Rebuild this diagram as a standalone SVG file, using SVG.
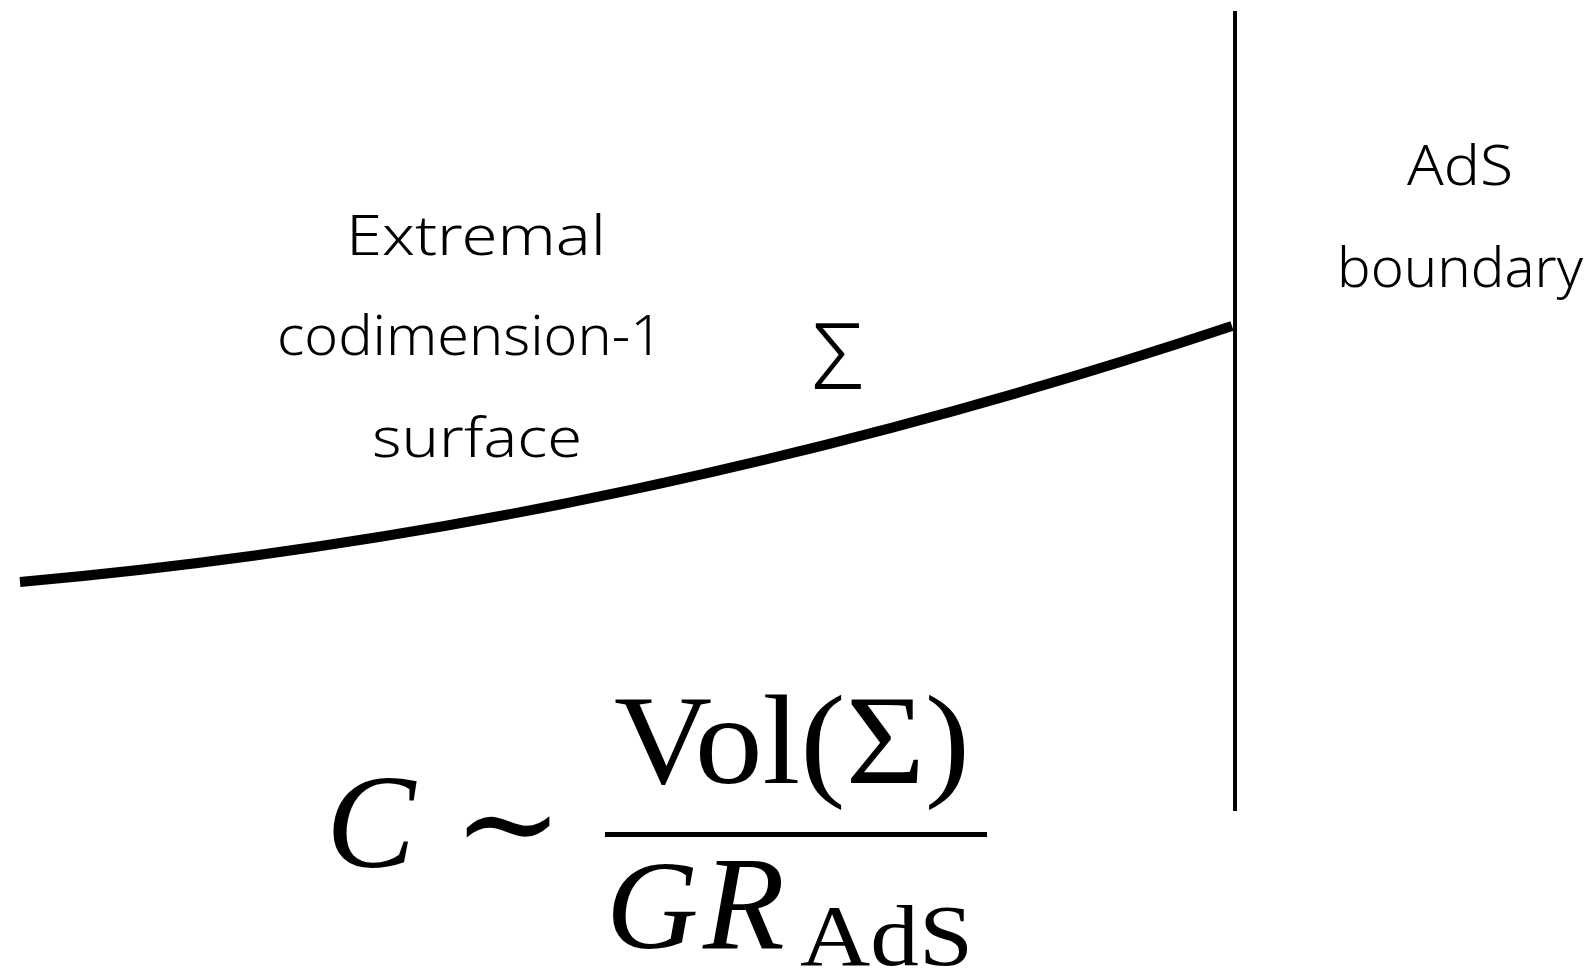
<svg xmlns="http://www.w3.org/2000/svg" width="1596" height="974" viewBox="0 0 1596 974">
<style>
.hand{font-family:"Noto Sans","DejaVu Sans",sans-serif;font-weight:300;font-size:56px;fill:#000;text-anchor:middle}
.math{font-family:"Liberation Serif","DejaVu Serif",serif;font-size:128px;fill:#000}
.it{font-style:italic}
</style>
<rect width="1596" height="974" fill="#fff"/>
<g id="connectors" fill="none" stroke="#000">
<path id="surface-curve" d="M20,582 Q626,528 1232,326" stroke-width="10"/>
<line id="ads-boundary-line" x1="1235" y1="11" x2="1235" y2="811" stroke-width="4"/>
</g>
<g id="label-extremal">
<text class="hand" x="476" y="255" textLength="260" lengthAdjust="spacingAndGlyphs">Extremal</text>
<text class="hand" x="470" y="355" textLength="386" lengthAdjust="spacingAndGlyphs">codimension-1</text>
<text class="hand" x="477" y="457" textLength="210" lengthAdjust="spacingAndGlyphs">surface</text>
</g>
<g id="label-sigma">
<text class="hand" x="838" y="389" style="font-size:92px">Σ</text>
</g>
<g id="label-ads">
<text class="hand" x="1460" y="185" textLength="106" lengthAdjust="spacingAndGlyphs">AdS</text>
<text class="hand" x="1460" y="287" textLength="246" lengthAdjust="spacingAndGlyphs">boundary</text>
</g>
<g id="formula">
<text class="math it" x="326" y="867" style="font-size:134px">C</text>
<text class="math" x="508" y="868" text-anchor="middle" style="font-family:'DejaVu Serif',serif;font-size:132px">∼</text>
<text class="math" x="614" y="783" textLength="356" lengthAdjust="spacingAndGlyphs">Vol(Σ)</text>
<rect x="605" y="832" width="382" height="5" fill="#000"/>
<text class="math it" x="606" y="948">G</text>
<text class="math it" x="703" y="948" style="font-size:134px">R</text>
<text class="math" x="800" y="965" style="font-size:86px" textLength="173" lengthAdjust="spacingAndGlyphs">AdS</text>
</g>
</svg>
